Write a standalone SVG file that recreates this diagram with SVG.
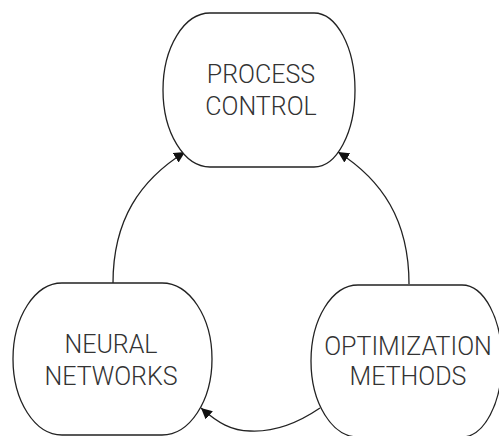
<svg xmlns="http://www.w3.org/2000/svg" width="499" height="436" viewBox="0 0 499 436">
<style>
.node{fill:#fff;stroke:#222;stroke-width:1.3}
.lbl{font-family:Roboto,"Liberation Sans","DejaVu Sans",sans-serif;font-weight:300;font-size:25px;fill:#333;text-anchor:middle}
.edge{fill:none;stroke:#222;stroke-width:1.3}
</style>
<defs>
<marker id="ah" markerWidth="12" markerHeight="12" refX="11" refY="6" orient="auto" markerUnits="userSpaceOnUse">
<path d="M0,0.5 L11,6 L0,11.5 Z" fill="#111"/>
</marker>
</defs>
<rect width="499" height="436" fill="#fff"/>
<g id="connectors">
<path class="edge" d="M113,283 C113,220 140,180 185,152" marker-end="url(#ah)"/>
<path class="edge" d="M409,284 C409,220 382,180 338,152" marker-end="url(#ah)"/>
<path class="edge" d="M320,408 C295,425 270,432 250,431 C232,431 218,423 201,408" marker-end="url(#ah)"/>
</g>
<g id="process-control">
<path class="node" d="M210,13 H314 A41,77 0 0 1 355,90 A41,77 0 0 1 314,167 H210 A47,77 0 0 1 163,90 A47,77 0 0 1 210,13 Z"/>
<text class="lbl" x="261" y="83">PROCESS</text>
<text class="lbl" x="261" y="115">CONTROL</text>
</g>
<g id="neural-networks">
<path class="node" d="M62,283 H162 A50,76 0 0 1 212,359 A50,76 0 0 1 162,435 H62 A49,76 0 0 1 13,359 A49,76 0 0 1 62,283 Z"/>
<text class="lbl" x="111" y="353">NEURAL</text>
<text class="lbl" x="111" y="385">NETWORKS</text>
</g>
<g id="optimization-methods">
<path class="node" d="M358,285 H462 A40,76 0 0 1 502,361 A40,76 0 0 1 462,437 H358 A47,76 0 0 1 311,361 A47,76 0 0 1 358,285 Z"/>
<text class="lbl" x="408" y="355">OPTIMIZATION</text>
<text class="lbl" x="408" y="385">METHODS</text>
</g>
</svg>
